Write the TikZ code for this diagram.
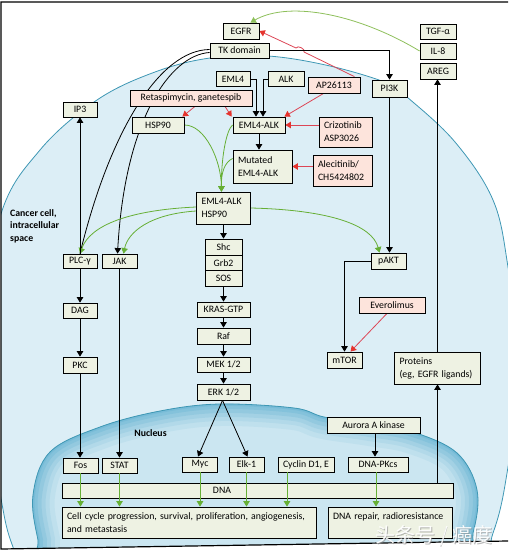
\documentclass[tikz,border=0pt]{standalone}
\usepackage{fontspec}
\setmainfont{Carlito}
\newfontfamily\cjkfont{Noto Sans CJK SC}
\usetikzlibrary{arrows.meta}
\pgfdeclarelayer{back}
\pgfdeclarelayer{edges}
\pgfdeclarelayer{front}
\pgfsetlayers{back,edges,main,front}
\definecolor{boxfill}{HTML}{EEF2E3}
\definecolor{drugfill}{HTML}{FDE4DC}
\definecolor{cellfill}{HTML}{DCEEF6}
\definecolor{celledge}{HTML}{3E97B4}
\definecolor{nucin}{HTML}{CBE6F1}
\definecolor{nucout}{HTML}{4AA6CB}
\definecolor{sig}{HTML}{66AF35}
\definecolor{sigpale}{HTML}{8DBF5A}
\definecolor{inh}{HTML}{E5342E}
\definecolor{inhline}{HTML}{DC4656}
\begin{document}
\begin{tikzpicture}[x=1pt,y=-1pt,
  every node/.style={font=\fontsize{9.8}{13}\selectfont},
  box/.style={draw=black,line width=0.8pt,fill=boxfill,inner xsep=2pt,inner ysep=0pt,minimum height=15pt},
  drug/.style={box,fill=drugfill},
  lbox/.style={align=left,inner xsep=5pt,text width=#1},
  conn/.style={line width=0.8pt,draw=black},
  barr/.style={conn,-{Triangle[length=5.5pt,width=6.5pt]}},
  garr/.style={line width=0.8pt,draw=sig,-{Triangle[length=5.5pt,width=6.5pt]}},
  gline/.style={line width=0.8pt,draw=sig},
  rarr/.style={line width=0.8pt,draw=inhline,-{Triangle[length=5.5pt,width=6.5pt,color=inh]}},
  rline/.style={line width=0.8pt,draw=inhline},
  boldtxt/.style={font=\fontsize{9.8}{12.5}\selectfont\bfseries}
]
\useasboundingbox (0,0) rectangle (508,553);
\def\cellpath{plot[smooth cycle,tension=0.6] coordinates {(-22,355) (0,217) (40,150) (97,100) (155,72) (210,58) (268,56) (330,66) (387,83) (407,97) (455,142) (493,200) (508,267) (520,367) (508,467) (493,533) (460,600) (250,640) (40,600) (13,547) (0,493)}}
\def\nucpath{plot[smooth cycle,tension=0.6] coordinates {(33,495) (50,452) (100,427) (160,411) (220,404) (294,408) (324,417) (370,424) (413,432) (457,453) (477,490) (473,533) (455,575) (250,610) (50,580) (38,540)}}

% ---------------- background: cell and nucleus
\begin{pgfonlayer}{back}
\begin{scope}
  \clip (1,2) -- (508,2) -- (508,541) -- (1,549) -- cycle;
  \path[fill=cellfill,draw=celledge,line width=0.8pt] \cellpath;
  \begin{scope}
    \clip \nucpath;
    \fill[nucin] (0,380) rectangle (520,640);
    \foreach \w/\o in {44/0.09,34/0.11,26/0.14,18/0.17,10/0.2,4/0.22}
      \draw[nucout,line width=\w pt,opacity=\o] \nucpath;
  \end{scope}
  \draw[celledge,line width=0.8pt] \nucpath;
\end{scope}
\end{pgfonlayer}

% ---------------- nodes
\node[box,minimum width=36pt,minimum height=16pt] (egfr) at (241,31) {EGFR};
\node[box,minimum width=59pt] (tk) at (239.5,50.5) {TK domain};
\node[box,minimum width=34pt] (eml4) at (233,79) {EML4};
\node[box,minimum width=36pt] (alk) at (286,79) {ALK};
\node[drug,minimum width=52pt,minimum height=16pt] (ap) at (334,85) {AP26113};
\node[drug,minimum width=122pt,minimum height=16pt] (reta) at (191,98) {Retaspimycin, ganetespib};
\node[box,minimum width=34pt] (ip3) at (80,109.5) {IP3};
\node[box,minimum width=52pt,minimum height=16pt] (hsp) at (158,125) {HSP90};
\node[box,minimum width=52pt,minimum height=16pt] (ea) at (259,125) {EML4-ALK};
\node[box,minimum width=35pt,minimum height=17pt] (pi3k) at (389.5,88.5) {PI3K};
\node[drug,lbox=43pt,minimum height=30pt] (criz) at (345.5,132) {Crizotinib\\ASP3026};
\node[box,lbox=49pt,minimum height=33pt] (mut) at (262.5,166.5) {Mutated\\EML4-ALK};
\node[drug,lbox=49pt,minimum height=31pt] (alec) at (342.5,170.5) {Alecitinib/\\CH5424802};
\node[box,minimum width=36pt] (tgf) at (438,31.5) {TGF-α};
\node[box,minimum width=36pt,minimum height=16pt] (il8) at (438,51) {IL-8};
\node[box,minimum width=36pt,minimum height=16pt] (areg) at (438,71) {AREG};
\node[box,lbox=44pt,minimum height=32pt] (eah) at (223.5,208) {EML4-ALK\\HSP90};
\node[box,minimum width=34pt,minimum height=14pt] (plc) at (80,261) {PLC-γ};
\node[box,minimum width=35pt,minimum height=14pt] (jak) at (119.5,261) {JAK};
\node[box,minimum width=37pt,minimum height=16pt] (shc) at (223.5,247) {Shc};
\node[box,minimum width=37pt,minimum height=15.5pt] (grb) at (223.5,262.75) {Grb2};
\node[box,minimum width=37pt,minimum height=15.5pt] (sos) at (223.5,278.25) {SOS};
\node[box,minimum width=53pt] (kras) at (223.5,309.5) {KRAS-GTP};
\node[box,minimum width=53pt,minimum height=16pt] (raf) at (223.5,336) {Raf};
\node[box,minimum width=53pt] (mek) at (223.5,364.5) {MEK 1/2};
\node[box,minimum width=53pt,minimum height=16pt] (erk) at (223.5,392) {ERK 1/2};
\node[box,minimum width=34pt] (dag) at (80,310.5) {DAG};
\node[box,minimum width=34pt,minimum height=16pt] (pkc) at (80,365) {PKC};
\node[box,minimum width=35pt,minimum height=16pt] (pakt) at (388.5,261) {pAKT};
\node[drug,minimum width=66pt,minimum height=16pt] (evero) at (392,305) {Everolimus};
\node[box,minimum width=35pt,minimum height=16pt] (mtor) at (344.5,360) {mTOR};
\node[box,lbox=76pt,minimum height=32pt] (prot) at (437.5,368) {Proteins\\(eg, EGFR ligands)};
\node[box,minimum width=35pt] (fos) at (80.5,465.5) {Fos};
\node[box,minimum width=35pt] (stat) at (119.5,465.5) {STAT};
\node[box,minimum width=35pt] (myc) at (200,464.5) {Myc};
\node[box,minimum width=35pt] (elk) at (246.5,464.5) {Elk-1};
\node[box,minimum width=56pt] (cyc) at (306,464.5) {Cyclin D1, E};
\node[box,minimum width=60pt] (dpk) at (378,464.5) {DNA-PKcs};
\node[box,minimum width=93pt,minimum height=16pt] (aur) at (373.5,425) {Aurora A kinase};
\node[box,minimum width=391pt] (dna) at (257.5,490.5) {};
\node (dnat) at (222,490.5) {DNA};
\node[box,lbox=244pt,minimum height=31pt] (cc) at (189,522.5) {Cell cycle progression, survival, proliferation, angiogenesis,\\and metastasis};
\node[box,lbox=114pt,minimum height=31pt] (rep) at (390,522.5) {DNA repair, radioresistance\\\mbox{}};
\node[boldtxt,align=left,anchor=north west,inner sep=0pt] (cct) at (10,209) {Cancer cell,\\intracellular\\space};
\node[boldtxt] (nuct) at (150.5,433) {Nucleus};

% ---------------- connectors
\begin{pgfonlayer}{edges}
% EGFR feedback from ligands
\draw[garr,draw=sigpale] (il8.west) .. controls (360,15) and (290,0) .. ([xshift=-9pt]egfr.north east);
% AP26113 -> EGFR with hop over TK line
\coordinate (hopA) at (304,52);
\coordinate (hopB) at (296,48);
\draw[rline] ([xshift=-6pt]ap.north east) -- (hopA);
\draw[rline] (hopA) to[bend right=90] (hopB);
\draw[rarr] (hopB) -- (egfr.east);
% TK domain
\draw[barr] (tk.east) -| (pi3k.north);
\draw[conn] ([yshift=1pt]tk.west) .. controls (160,50) and (110,130) .. (plc.north);
\draw[barr] ([yshift=-2pt]tk.west) .. controls (170,55) and (125,120) .. ([xshift=-2pt]jak.north);
% EML4 / ALK fusion
\draw[barr] (eml4.east) -| ([xshift=-3pt]ea.north);
\draw[barr] (alk.west) -| ([xshift=4pt]ea.north);
% inhibitors
\draw[rarr] ([xshift=4pt]reta.south) -- ([xshift=-2pt]hsp.north east);
\draw[rarr] ([xshift=34pt]reta.south) -- ([xshift=-1pt]ea.north west);
\draw[rarr] ([xshift=16pt]ap.south west) -- ([xshift=-1pt]ea.north east);
\draw[rarr] (criz.west |- ea.east) -- (ea.east);
\draw[rarr] (alec.west |- mut.east) -- (mut.east);
\draw[barr] (ea.south) -- (ea.south |- mut.north);
% into EML4-ALK/HSP90 complex
\coordinate (gin) at ([xshift=-2pt]eah.north);
\draw[garr] (hsp.east) .. controls (205,125) and (221,160) .. (gin);
\draw[garr] (ea.west) .. controls (226,130) and (221,160) .. (gin);
\draw[garr] ([yshift=8pt]mut.west) .. controls (225,162) and (221,172) .. (gin);
% complex -> effectors
\draw[garr] ([yshift=1pt]eah.west) .. controls (130,210) and (90,225) .. (plc.north);
\draw[garr] ([yshift=-3pt]eah.west) .. controls (150,214) and (128,232) .. ([xshift=4pt]jak.north);
\draw[garr] (eah.east) .. controls (330,210) and (372,225) .. ([xshift=-9pt]pakt.north);
\draw[barr] (pi3k.south) -- (pi3k.south |- pakt.north);
\draw[barr] (eah.south) -- (shc.north);
\draw[barr] (sos.south) -- (kras.north);
\draw[barr] (kras.south) -- (raf.north);
\draw[barr] (raf.south) -- (mek.north);
\draw[barr] (mek.south) -- (erk.north);
\draw[barr] ([xshift=-1pt]erk.south) -- ([xshift=-2pt]myc.north);
\draw[barr] ([xshift=-1pt]erk.south) -- ([xshift=1pt]elk.north);
% PLC branch
\draw[barr] (plc.north) -- (ip3.south);
\draw[barr] (plc.south) -- (dag.north);
\draw[barr] (dag.south) -- (pkc.north);
\draw[barr] (pkc.south) -- (pkc.south |- fos.north);
\draw[barr] (jak.south) -- (stat.north);
% AKT / mTOR
\draw[barr] (pakt.west) -| (mtor.north);
\draw[rarr] ([xshift=-5pt]evero.south) -- ([xshift=6pt]mtor.north);
% nucleus
\draw[barr] ([xshift=1.5pt]aur.south) -- ([xshift=1.5pt]aur.south |- dpk.north);
\draw[barr] (dna.north -| prot.south) -- (prot.south);
\draw[barr] (prot.north) -- (prot.north |- areg.south);
\end{pgfonlayer}

\begin{pgfonlayer}{front}
\draw[garr] (fos.south) -- (fos.south |- cc.north);
\draw[garr] (stat.south) -- (stat.south |- cc.north);
\draw[garr] (myc.south) -- (myc.south |- cc.north);
\draw[garr] (elk.south) -- (elk.south |- cc.north);
\draw[garr] ([xshift=-19pt]cyc.south) -- ([xshift=-19pt]cyc.south |- cc.north);
\draw[garr] ([xshift=-2pt]dpk.south) -- ([xshift=-2pt]dpk.south |- rep.north);
% frame
\draw[line width=1.2pt] (508,2) -- (1,2) -- (1,549) -- (508,541);
% watermark
\node[font=\cjkfont\fontsize{20}{20}\selectfont,text=black!45,opacity=0.6] (wm0) at (434.8,536.8) {头条号 / 癌度};
\node[font=\cjkfont\fontsize{20}{20}\selectfont,text=white,opacity=0.95] (wm) at (434,536) {头条号 / 癌度};
\end{pgfonlayer}
\end{tikzpicture}
\end{document}
